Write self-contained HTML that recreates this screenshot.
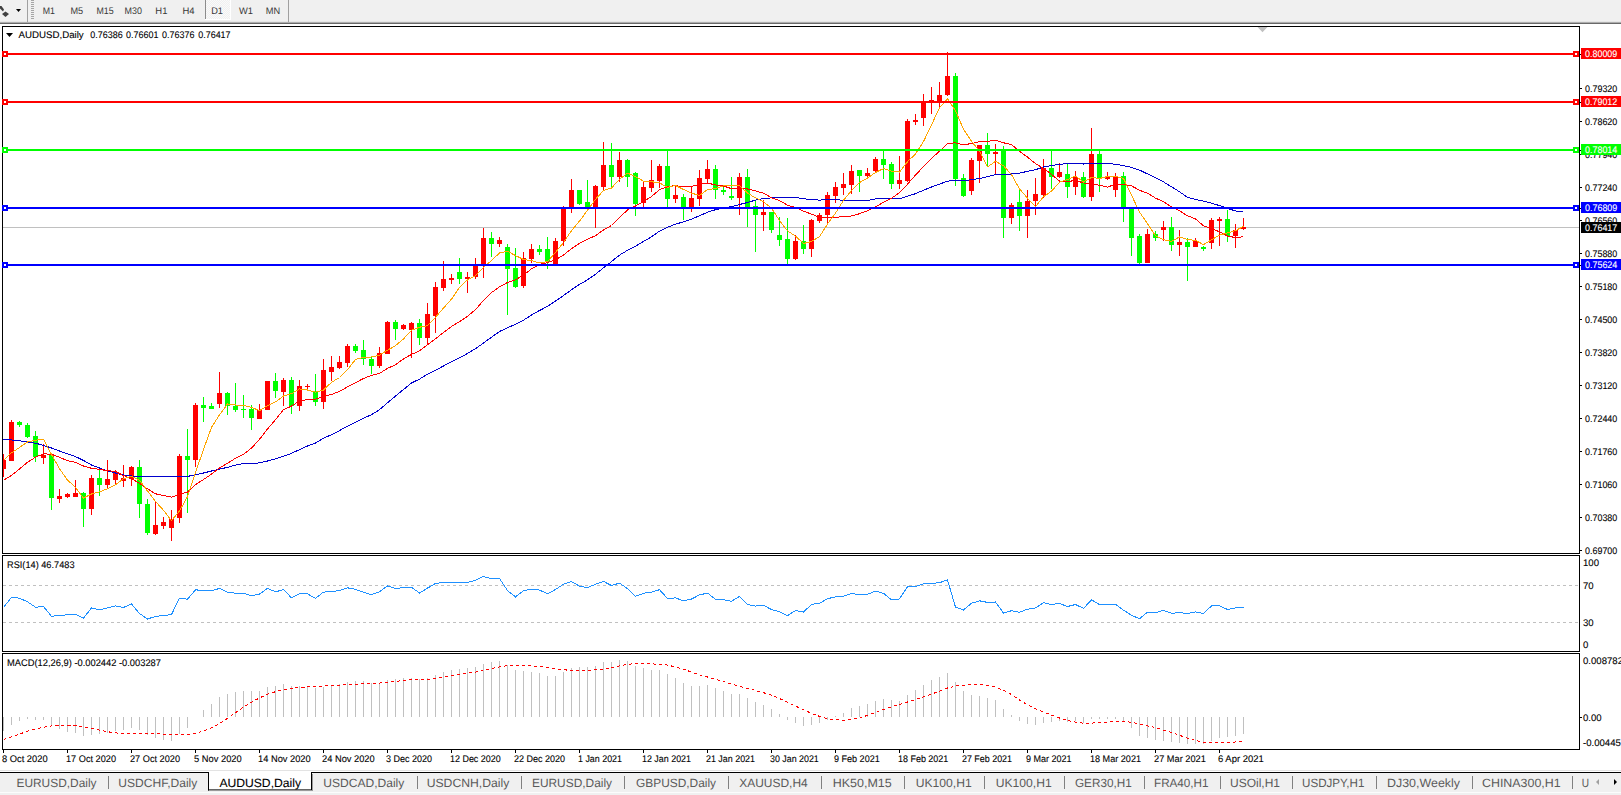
<!DOCTYPE html>
<html><head><meta charset="utf-8"><title>AUDUSD,Daily</title>
<style>html,body{margin:0;padding:0;background:#fff;width:1621px;height:795px;overflow:hidden}svg{display:block;position:absolute;left:0;top:0}text{font-family:"Liberation Sans",sans-serif;white-space:pre}</style>
</head><body>
<svg width="1621" height="795" viewBox="0 0 1621 795" font-family="Liberation Sans, sans-serif" text-rendering="geometricPrecision"><rect x="0" y="0" width="1621" height="22" fill="#f0f0f0" />
<rect x="0" y="21" width="1621" height="1" fill="#e6e6e6" />
<rect x="0" y="22" width="1621" height="1" fill="#adadad" />
<rect x="0" y="23" width="1621" height="1" fill="#696969" />
<path d="M0 6 L1.5 6 L4 9.5 L3 11.5 L0 8.5 Z" fill="#404040"/>
<path d="M5.5 11.5 L9 14 L5.5 17 L2 14 Z" fill="#404040"/>
<path d="M16 9 H21 L18.5 12 Z" fill="#000"/>
<rect x="27" y="0" width="1" height="22" fill="#a0a0a0" />
<rect x="31" y="0" width="3" height="1" fill="#a6a6a6" />
<rect x="31" y="2" width="3" height="1" fill="#a6a6a6" />
<rect x="31" y="4" width="3" height="1" fill="#a6a6a6" />
<rect x="31" y="6" width="3" height="1" fill="#a6a6a6" />
<rect x="31" y="8" width="3" height="1" fill="#a6a6a6" />
<rect x="31" y="10" width="3" height="1" fill="#a6a6a6" />
<rect x="31" y="12" width="3" height="1" fill="#a6a6a6" />
<rect x="31" y="14" width="3" height="1" fill="#a6a6a6" />
<rect x="31" y="16" width="3" height="1" fill="#a6a6a6" />
<rect x="31" y="18" width="3" height="1" fill="#a6a6a6" />
<defs><pattern id="chk" width="2" height="2" patternUnits="userSpaceOnUse"><rect width="2" height="2" fill="#f0f0f0"/><rect width="1" height="1" fill="#fafafa"/><rect x="1" y="1" width="1" height="1" fill="#fafafa"/></pattern></defs>
<rect x="206" y="0" width="24" height="19" fill="url(#chk)" />
<rect x="205" y="0" width="1" height="19" fill="#8c8c8c" />
<rect x="205" y="19" width="26" height="1" fill="#fff" />
<rect x="230" y="0" width="1" height="20" fill="#fff" />
<rect x="288" y="0" width="1" height="22" fill="#a0a0a0" />
<text x="42.8" y="14" font-size="9.6" fill="#383838" textLength="12.2" lengthAdjust="spacingAndGlyphs" >M1</text>
<text x="70.5" y="14" font-size="9.6" fill="#383838" textLength="12.7" lengthAdjust="spacingAndGlyphs" >M5</text>
<text x="96.4" y="14" font-size="9.6" fill="#383838" textLength="17.2" lengthAdjust="spacingAndGlyphs" >M15</text>
<text x="124.6" y="14" font-size="9.6" fill="#383838" textLength="17.4" lengthAdjust="spacingAndGlyphs" >M30</text>
<text x="155.3" y="14" font-size="9.6" fill="#383838" textLength="12.1" lengthAdjust="spacingAndGlyphs" >H1</text>
<text x="182.5" y="14" font-size="9.6" fill="#383838" textLength="12.1" lengthAdjust="spacingAndGlyphs" >H4</text>
<text x="211.2" y="14" font-size="9.6" fill="#383838" textLength="11.8" lengthAdjust="spacingAndGlyphs" >D1</text>
<text x="239" y="14" font-size="9.6" fill="#383838" textLength="14" lengthAdjust="spacingAndGlyphs" >W1</text>
<text x="265.8" y="14" font-size="9.6" fill="#383838" textLength="14.4" lengthAdjust="spacingAndGlyphs" >MN</text>
<rect x="2" y="26" width="1578" height="1" fill="#000" />
<rect x="2" y="26" width="1" height="724" fill="#000" />
<rect x="1579" y="26" width="1" height="724" fill="#000" />
<rect x="2" y="553" width="1578" height="1" fill="#000" />
<rect x="2" y="554" width="1577" height="1" fill="#fff" />
<rect x="2" y="555" width="1578" height="1" fill="#000" />
<rect x="2" y="651" width="1578" height="1" fill="#000" />
<rect x="2" y="652" width="1577" height="1" fill="#fff" />
<rect x="2" y="653" width="1578" height="1" fill="#000" />
<rect x="2" y="749" width="1578" height="1" fill="#000" />
<rect x="1579" y="554" width="1" height="1" fill="#fff" />
<rect x="1579" y="652" width="1" height="1" fill="#fff" />
<rect x="2" y="554" width="1" height="1" fill="#fff" />
<rect x="2" y="652" width="1" height="1" fill="#fff" />
<path d="M1257.5 27 H1267.5 L1262.5 32.3 Z" fill="#c0c0c0"/>
<defs><clipPath id="cm"><rect x="3" y="27" width="1576" height="526"/></clipPath></defs>
<g clip-path="url(#cm)" shape-rendering="crispEdges">
<rect x="3" y="227" width="1576" height="1" fill="#c0c0c0" />
<rect x="3" y="454" width="1" height="23" fill="#ff0000" />
<rect x="1" y="460" width="5" height="9" fill="#ff0000" />
<rect x="11" y="420" width="1" height="41" fill="#ff0000" />
<rect x="9" y="422" width="5" height="39" fill="#ff0000" />
<rect x="19" y="421" width="1" height="6" fill="#00ff00" />
<rect x="17" y="422" width="5" height="3" fill="#00ff00" />
<rect x="27" y="423" width="1" height="15" fill="#00ff00" />
<rect x="25" y="425" width="5" height="12" fill="#00ff00" />
<rect x="35" y="431" width="1" height="31" fill="#00ff00" />
<rect x="33" y="436" width="5" height="21" fill="#00ff00" />
<rect x="43" y="444" width="1" height="20" fill="#ff0000" />
<rect x="41" y="455" width="5" height="3" fill="#ff0000" />
<rect x="51" y="454" width="1" height="56" fill="#00ff00" />
<rect x="49" y="454" width="5" height="44" fill="#00ff00" />
<rect x="59" y="489" width="1" height="14" fill="#ff0000" />
<rect x="57" y="496" width="5" height="3" fill="#ff0000" />
<rect x="67" y="493" width="1" height="5" fill="#ff0000" />
<rect x="65" y="494" width="5" height="3" fill="#ff0000" />
<rect x="75" y="480" width="1" height="17" fill="#ff0000" />
<rect x="73" y="493" width="5" height="4" fill="#ff0000" />
<rect x="83" y="492" width="1" height="35" fill="#00ff00" />
<rect x="81" y="493" width="5" height="16" fill="#00ff00" />
<rect x="91" y="475" width="1" height="40" fill="#ff0000" />
<rect x="89" y="478" width="5" height="31" fill="#ff0000" />
<rect x="99" y="470" width="1" height="26" fill="#00ff00" />
<rect x="97" y="478" width="5" height="7" fill="#00ff00" />
<rect x="107" y="460" width="1" height="28" fill="#ff0000" />
<rect x="105" y="479" width="5" height="6" fill="#ff0000" />
<rect x="115" y="470" width="1" height="14" fill="#ff0000" />
<rect x="113" y="473" width="5" height="7" fill="#ff0000" />
<rect x="123" y="465" width="1" height="22" fill="#ff0000" />
<rect x="121" y="478" width="5" height="3" fill="#ff0000" />
<rect x="131" y="466" width="1" height="20" fill="#ff0000" />
<rect x="129" y="467" width="5" height="12" fill="#ff0000" />
<rect x="139" y="460" width="1" height="58" fill="#00ff00" />
<rect x="137" y="467" width="5" height="37" fill="#00ff00" />
<rect x="147" y="499" width="1" height="36" fill="#00ff00" />
<rect x="145" y="504" width="5" height="29" fill="#00ff00" />
<rect x="155" y="502" width="1" height="33" fill="#ff0000" />
<rect x="153" y="525" width="5" height="9" fill="#ff0000" />
<rect x="163" y="517" width="1" height="12" fill="#ff0000" />
<rect x="161" y="522" width="5" height="4" fill="#ff0000" />
<rect x="171" y="510" width="1" height="31" fill="#ff0000" />
<rect x="169" y="519" width="5" height="9" fill="#ff0000" />
<rect x="179" y="454" width="1" height="69" fill="#ff0000" />
<rect x="177" y="456" width="5" height="62" fill="#ff0000" />
<rect x="187" y="429" width="1" height="84" fill="#00ff00" />
<rect x="185" y="456" width="5" height="4" fill="#00ff00" />
<rect x="195" y="403" width="1" height="64" fill="#ff0000" />
<rect x="193" y="405" width="5" height="55" fill="#ff0000" />
<rect x="203" y="397" width="1" height="25" fill="#00ff00" />
<rect x="201" y="405" width="5" height="3" fill="#00ff00" />
<rect x="211" y="403" width="1" height="6" fill="#00ff00" />
<rect x="209" y="406" width="5" height="3" fill="#00ff00" />
<rect x="219" y="372" width="1" height="36" fill="#ff0000" />
<rect x="217" y="393" width="5" height="11" fill="#ff0000" />
<rect x="227" y="392" width="1" height="23" fill="#00ff00" />
<rect x="225" y="393" width="5" height="13" fill="#00ff00" />
<rect x="235" y="383" width="1" height="29" fill="#00ff00" />
<rect x="233" y="406" width="5" height="4" fill="#00ff00" />
<rect x="243" y="395" width="1" height="23" fill="#00ff00" />
<rect x="241" y="409" width="5" height="1" fill="#00ff00" />
<rect x="251" y="405" width="1" height="25" fill="#00ff00" />
<rect x="249" y="409" width="5" height="9" fill="#00ff00" />
<rect x="259" y="404" width="1" height="15" fill="#ff0000" />
<rect x="257" y="410" width="5" height="9" fill="#ff0000" />
<rect x="267" y="381" width="1" height="29" fill="#ff0000" />
<rect x="265" y="381" width="5" height="29" fill="#ff0000" />
<rect x="275" y="373" width="1" height="25" fill="#00ff00" />
<rect x="273" y="381" width="5" height="10" fill="#00ff00" />
<rect x="283" y="378" width="1" height="28" fill="#ff0000" />
<rect x="281" y="380" width="5" height="12" fill="#ff0000" />
<rect x="291" y="377" width="1" height="37" fill="#00ff00" />
<rect x="289" y="380" width="5" height="26" fill="#00ff00" />
<rect x="299" y="380" width="1" height="31" fill="#ff0000" />
<rect x="297" y="386" width="5" height="20" fill="#ff0000" />
<rect x="307" y="384" width="1" height="6" fill="#ff0000" />
<rect x="305" y="386" width="5" height="1" fill="#ff0000" />
<rect x="315" y="374" width="1" height="32" fill="#00ff00" />
<rect x="313" y="392" width="5" height="10" fill="#00ff00" />
<rect x="323" y="359" width="1" height="50" fill="#ff0000" />
<rect x="321" y="370" width="5" height="32" fill="#ff0000" />
<rect x="331" y="356" width="1" height="25" fill="#ff0000" />
<rect x="329" y="367" width="5" height="5" fill="#ff0000" />
<rect x="339" y="356" width="1" height="13" fill="#ff0000" />
<rect x="337" y="362" width="5" height="6" fill="#ff0000" />
<rect x="347" y="344" width="1" height="23" fill="#ff0000" />
<rect x="345" y="346" width="5" height="17" fill="#ff0000" />
<rect x="355" y="344" width="1" height="9" fill="#00ff00" />
<rect x="353" y="346" width="5" height="5" fill="#00ff00" />
<rect x="363" y="340" width="1" height="25" fill="#00ff00" />
<rect x="361" y="350" width="5" height="9" fill="#00ff00" />
<rect x="371" y="357" width="1" height="17" fill="#00ff00" />
<rect x="369" y="359" width="5" height="7" fill="#00ff00" />
<rect x="379" y="347" width="1" height="21" fill="#ff0000" />
<rect x="377" y="353" width="5" height="13" fill="#ff0000" />
<rect x="387" y="321" width="1" height="33" fill="#ff0000" />
<rect x="385" y="322" width="5" height="32" fill="#ff0000" />
<rect x="395" y="320" width="1" height="20" fill="#00ff00" />
<rect x="393" y="322" width="5" height="7" fill="#00ff00" />
<rect x="403" y="324" width="1" height="6" fill="#ff0000" />
<rect x="401" y="325" width="5" height="4" fill="#ff0000" />
<rect x="411" y="322" width="1" height="36" fill="#ff0000" />
<rect x="409" y="323" width="5" height="7" fill="#ff0000" />
<rect x="419" y="319" width="1" height="26" fill="#00ff00" />
<rect x="417" y="323" width="5" height="15" fill="#00ff00" />
<rect x="427" y="303" width="1" height="41" fill="#ff0000" />
<rect x="425" y="314" width="5" height="24" fill="#ff0000" />
<rect x="435" y="282" width="1" height="51" fill="#ff0000" />
<rect x="433" y="287" width="5" height="29" fill="#ff0000" />
<rect x="443" y="261" width="1" height="30" fill="#ff0000" />
<rect x="441" y="279" width="5" height="9" fill="#ff0000" />
<rect x="451" y="274" width="1" height="10" fill="#ff0000" />
<rect x="449" y="278" width="5" height="2" fill="#ff0000" />
<rect x="459" y="258" width="1" height="26" fill="#00ff00" />
<rect x="457" y="272" width="5" height="7" fill="#00ff00" />
<rect x="467" y="272" width="1" height="21" fill="#ff0000" />
<rect x="465" y="277" width="5" height="2" fill="#ff0000" />
<rect x="475" y="258" width="1" height="21" fill="#ff0000" />
<rect x="473" y="265" width="5" height="12" fill="#ff0000" />
<rect x="483" y="228" width="1" height="50" fill="#ff0000" />
<rect x="481" y="238" width="5" height="27" fill="#ff0000" />
<rect x="491" y="232" width="1" height="25" fill="#00ff00" />
<rect x="489" y="238" width="5" height="6" fill="#00ff00" />
<rect x="499" y="237" width="1" height="10" fill="#ff0000" />
<rect x="497" y="240" width="5" height="4" fill="#ff0000" />
<rect x="507" y="244" width="1" height="71" fill="#00ff00" />
<rect x="505" y="247" width="5" height="22" fill="#00ff00" />
<rect x="515" y="248" width="1" height="40" fill="#00ff00" />
<rect x="513" y="268" width="5" height="19" fill="#00ff00" />
<rect x="523" y="252" width="1" height="36" fill="#ff0000" />
<rect x="521" y="258" width="5" height="28" fill="#ff0000" />
<rect x="531" y="244" width="1" height="19" fill="#ff0000" />
<rect x="529" y="249" width="5" height="10" fill="#ff0000" />
<rect x="539" y="245" width="1" height="10" fill="#00ff00" />
<rect x="537" y="249" width="5" height="3" fill="#00ff00" />
<rect x="547" y="237" width="1" height="32" fill="#00ff00" />
<rect x="545" y="249" width="5" height="13" fill="#00ff00" />
<rect x="555" y="238" width="1" height="26" fill="#ff0000" />
<rect x="553" y="241" width="5" height="23" fill="#ff0000" />
<rect x="563" y="206" width="1" height="40" fill="#ff0000" />
<rect x="561" y="208" width="5" height="33" fill="#ff0000" />
<rect x="571" y="179" width="1" height="34" fill="#ff0000" />
<rect x="569" y="190" width="5" height="17" fill="#ff0000" />
<rect x="579" y="190" width="1" height="15" fill="#00ff00" />
<rect x="577" y="190" width="5" height="14" fill="#00ff00" />
<rect x="587" y="180" width="1" height="30" fill="#00ff00" />
<rect x="585" y="202" width="5" height="6" fill="#00ff00" />
<rect x="595" y="185" width="1" height="43" fill="#ff0000" />
<rect x="593" y="186" width="5" height="21" fill="#ff0000" />
<rect x="603" y="142" width="1" height="48" fill="#ff0000" />
<rect x="601" y="165" width="5" height="22" fill="#ff0000" />
<rect x="611" y="143" width="1" height="45" fill="#00ff00" />
<rect x="609" y="165" width="5" height="12" fill="#00ff00" />
<rect x="619" y="152" width="1" height="30" fill="#ff0000" />
<rect x="617" y="160" width="5" height="17" fill="#ff0000" />
<rect x="627" y="159" width="1" height="28" fill="#00ff00" />
<rect x="625" y="160" width="5" height="17" fill="#00ff00" />
<rect x="635" y="172" width="1" height="44" fill="#00ff00" />
<rect x="633" y="173" width="5" height="31" fill="#00ff00" />
<rect x="643" y="182" width="1" height="25" fill="#ff0000" />
<rect x="641" y="187" width="5" height="16" fill="#ff0000" />
<rect x="651" y="160" width="1" height="32" fill="#ff0000" />
<rect x="649" y="180" width="5" height="8" fill="#ff0000" />
<rect x="659" y="164" width="1" height="24" fill="#ff0000" />
<rect x="657" y="166" width="5" height="15" fill="#ff0000" />
<rect x="667" y="150" width="1" height="57" fill="#00ff00" />
<rect x="665" y="166" width="5" height="33" fill="#00ff00" />
<rect x="675" y="186" width="1" height="17" fill="#ff0000" />
<rect x="673" y="195" width="5" height="4" fill="#ff0000" />
<rect x="683" y="194" width="1" height="26" fill="#00ff00" />
<rect x="681" y="197" width="5" height="10" fill="#00ff00" />
<rect x="691" y="186" width="1" height="26" fill="#ff0000" />
<rect x="689" y="198" width="5" height="9" fill="#ff0000" />
<rect x="699" y="170" width="1" height="36" fill="#ff0000" />
<rect x="697" y="178" width="5" height="21" fill="#ff0000" />
<rect x="707" y="160" width="1" height="24" fill="#ff0000" />
<rect x="705" y="169" width="5" height="10" fill="#ff0000" />
<rect x="715" y="165" width="1" height="34" fill="#00ff00" />
<rect x="713" y="169" width="5" height="21" fill="#00ff00" />
<rect x="723" y="186" width="1" height="9" fill="#00ff00" />
<rect x="721" y="190" width="5" height="2" fill="#00ff00" />
<rect x="731" y="177" width="1" height="23" fill="#00ff00" />
<rect x="729" y="196" width="5" height="2" fill="#00ff00" />
<rect x="739" y="173" width="1" height="42" fill="#ff0000" />
<rect x="737" y="177" width="5" height="21" fill="#ff0000" />
<rect x="747" y="169" width="1" height="58" fill="#00ff00" />
<rect x="745" y="177" width="5" height="30" fill="#00ff00" />
<rect x="755" y="200" width="1" height="52" fill="#00ff00" />
<rect x="753" y="206" width="5" height="9" fill="#00ff00" />
<rect x="763" y="200" width="1" height="31" fill="#ff0000" />
<rect x="761" y="212" width="5" height="3" fill="#ff0000" />
<rect x="771" y="212" width="1" height="21" fill="#00ff00" />
<rect x="769" y="212" width="5" height="18" fill="#00ff00" />
<rect x="779" y="217" width="1" height="29" fill="#00ff00" />
<rect x="777" y="235" width="5" height="5" fill="#00ff00" />
<rect x="787" y="218" width="1" height="46" fill="#00ff00" />
<rect x="785" y="239" width="5" height="20" fill="#00ff00" />
<rect x="795" y="235" width="1" height="25" fill="#ff0000" />
<rect x="793" y="241" width="5" height="18" fill="#ff0000" />
<rect x="803" y="225" width="1" height="29" fill="#00ff00" />
<rect x="801" y="241" width="5" height="8" fill="#00ff00" />
<rect x="811" y="219" width="1" height="38" fill="#ff0000" />
<rect x="809" y="220" width="5" height="29" fill="#ff0000" />
<rect x="819" y="213" width="1" height="10" fill="#ff0000" />
<rect x="817" y="215" width="5" height="6" fill="#ff0000" />
<rect x="827" y="192" width="1" height="32" fill="#ff0000" />
<rect x="825" y="195" width="5" height="20" fill="#ff0000" />
<rect x="835" y="182" width="1" height="21" fill="#ff0000" />
<rect x="833" y="187" width="5" height="9" fill="#ff0000" />
<rect x="843" y="173" width="1" height="22" fill="#ff0000" />
<rect x="841" y="184" width="5" height="4" fill="#ff0000" />
<rect x="851" y="165" width="1" height="29" fill="#ff0000" />
<rect x="849" y="171" width="5" height="14" fill="#ff0000" />
<rect x="859" y="170" width="1" height="22" fill="#00ff00" />
<rect x="857" y="170" width="5" height="6" fill="#00ff00" />
<rect x="867" y="168" width="1" height="10" fill="#ff0000" />
<rect x="865" y="173" width="5" height="3" fill="#ff0000" />
<rect x="875" y="157" width="1" height="15" fill="#ff0000" />
<rect x="873" y="159" width="5" height="12" fill="#ff0000" />
<rect x="883" y="151" width="1" height="28" fill="#00ff00" />
<rect x="881" y="159" width="5" height="6" fill="#00ff00" />
<rect x="891" y="162" width="1" height="27" fill="#00ff00" />
<rect x="889" y="164" width="5" height="20" fill="#00ff00" />
<rect x="899" y="156" width="1" height="33" fill="#ff0000" />
<rect x="897" y="180" width="5" height="4" fill="#ff0000" />
<rect x="907" y="119" width="1" height="63" fill="#ff0000" />
<rect x="905" y="121" width="5" height="60" fill="#ff0000" />
<rect x="915" y="114" width="1" height="11" fill="#ff0000" />
<rect x="913" y="120" width="5" height="2" fill="#ff0000" />
<rect x="923" y="94" width="1" height="32" fill="#ff0000" />
<rect x="921" y="103" width="5" height="15" fill="#ff0000" />
<rect x="931" y="87" width="1" height="27" fill="#ff0000" />
<rect x="929" y="100" width="5" height="2" fill="#ff0000" />
<rect x="939" y="82" width="1" height="25" fill="#ff0000" />
<rect x="937" y="95" width="5" height="7" fill="#ff0000" />
<rect x="947" y="52" width="1" height="44" fill="#ff0000" />
<rect x="945" y="76" width="5" height="19" fill="#ff0000" />
<rect x="955" y="73" width="1" height="113" fill="#00ff00" />
<rect x="953" y="76" width="5" height="103" fill="#00ff00" />
<rect x="963" y="174" width="1" height="23" fill="#00ff00" />
<rect x="961" y="178" width="5" height="18" fill="#00ff00" />
<rect x="971" y="158" width="1" height="37" fill="#ff0000" />
<rect x="969" y="160" width="5" height="31" fill="#ff0000" />
<rect x="979" y="145" width="1" height="38" fill="#ff0000" />
<rect x="977" y="145" width="5" height="16" fill="#ff0000" />
<rect x="987" y="133" width="1" height="33" fill="#00ff00" />
<rect x="985" y="145" width="5" height="9" fill="#00ff00" />
<rect x="995" y="144" width="1" height="30" fill="#ff0000" />
<rect x="993" y="152" width="5" height="2" fill="#ff0000" />
<rect x="1003" y="146" width="1" height="92" fill="#00ff00" />
<rect x="1001" y="150" width="5" height="68" fill="#00ff00" />
<rect x="1011" y="203" width="1" height="21" fill="#ff0000" />
<rect x="1009" y="205" width="5" height="13" fill="#ff0000" />
<rect x="1019" y="189" width="1" height="42" fill="#00ff00" />
<rect x="1017" y="202" width="5" height="14" fill="#00ff00" />
<rect x="1027" y="190" width="1" height="48" fill="#ff0000" />
<rect x="1025" y="201" width="5" height="15" fill="#ff0000" />
<rect x="1035" y="178" width="1" height="37" fill="#ff0000" />
<rect x="1033" y="194" width="5" height="7" fill="#ff0000" />
<rect x="1043" y="159" width="1" height="39" fill="#ff0000" />
<rect x="1041" y="168" width="5" height="27" fill="#ff0000" />
<rect x="1051" y="151" width="1" height="38" fill="#00ff00" />
<rect x="1049" y="168" width="5" height="9" fill="#00ff00" />
<rect x="1059" y="163" width="1" height="15" fill="#ff0000" />
<rect x="1057" y="172" width="5" height="5" fill="#ff0000" />
<rect x="1067" y="164" width="1" height="34" fill="#00ff00" />
<rect x="1065" y="174" width="5" height="13" fill="#00ff00" />
<rect x="1075" y="171" width="1" height="24" fill="#ff0000" />
<rect x="1073" y="177" width="5" height="10" fill="#ff0000" />
<rect x="1083" y="172" width="1" height="26" fill="#00ff00" />
<rect x="1081" y="177" width="5" height="20" fill="#00ff00" />
<rect x="1091" y="128" width="1" height="73" fill="#ff0000" />
<rect x="1089" y="154" width="5" height="43" fill="#ff0000" />
<rect x="1099" y="151" width="1" height="41" fill="#00ff00" />
<rect x="1097" y="154" width="5" height="24" fill="#00ff00" />
<rect x="1107" y="172" width="1" height="8" fill="#ff0000" />
<rect x="1105" y="176" width="5" height="3" fill="#ff0000" />
<rect x="1115" y="173" width="1" height="24" fill="#ff0000" />
<rect x="1113" y="177" width="5" height="13" fill="#ff0000" />
<rect x="1123" y="172" width="1" height="50" fill="#00ff00" />
<rect x="1121" y="176" width="5" height="31" fill="#00ff00" />
<rect x="1131" y="209" width="1" height="47" fill="#00ff00" />
<rect x="1129" y="209" width="5" height="29" fill="#00ff00" />
<rect x="1139" y="234" width="1" height="30" fill="#00ff00" />
<rect x="1137" y="236" width="5" height="27" fill="#00ff00" />
<rect x="1147" y="229" width="1" height="34" fill="#ff0000" />
<rect x="1145" y="234" width="5" height="29" fill="#ff0000" />
<rect x="1155" y="231" width="1" height="10" fill="#00ff00" />
<rect x="1153" y="234" width="5" height="4" fill="#00ff00" />
<rect x="1163" y="221" width="1" height="20" fill="#ff0000" />
<rect x="1161" y="227" width="5" height="3" fill="#ff0000" />
<rect x="1171" y="217" width="1" height="34" fill="#00ff00" />
<rect x="1169" y="227" width="5" height="18" fill="#00ff00" />
<rect x="1179" y="230" width="1" height="26" fill="#ff0000" />
<rect x="1177" y="242" width="5" height="3" fill="#ff0000" />
<rect x="1187" y="238" width="1" height="43" fill="#00ff00" />
<rect x="1185" y="242" width="5" height="5" fill="#00ff00" />
<rect x="1195" y="238" width="1" height="9" fill="#ff0000" />
<rect x="1193" y="241" width="5" height="6" fill="#ff0000" />
<rect x="1203" y="246" width="1" height="5" fill="#00ff00" />
<rect x="1201" y="247" width="5" height="2" fill="#00ff00" />
<rect x="1211" y="218" width="1" height="31" fill="#ff0000" />
<rect x="1209" y="220" width="5" height="23" fill="#ff0000" />
<rect x="1219" y="217" width="1" height="29" fill="#ff0000" />
<rect x="1217" y="219" width="5" height="2" fill="#ff0000" />
<rect x="1227" y="210" width="1" height="32" fill="#00ff00" />
<rect x="1225" y="219" width="5" height="17" fill="#00ff00" />
<rect x="1235" y="224" width="1" height="24" fill="#ff0000" />
<rect x="1233" y="230" width="5" height="6" fill="#ff0000" />
<rect x="1243" y="218" width="1" height="12" fill="#ff0000" />
<rect x="1241" y="227" width="5" height="2" fill="#ff0000" />
<polyline points="3.5,439.5 11.5,440.0 19.5,440.7 27.5,442.0 35.5,443.2 43.5,445.4 51.5,448.0 59.5,451.0 67.5,453.8 75.5,456.6 83.5,460.5 91.5,465.0 99.5,468.0 107.5,470.8 115.5,473.0 123.5,475.0 131.5,476.0 139.5,476.4 147.5,476.4 155.5,476.4 163.5,476.4 171.5,476.4 179.5,476.4 187.5,476.4 195.5,474.8 203.5,473.0 211.5,471.0 219.5,469.2 227.5,467.3 235.5,465.2 243.5,463.5 251.5,463.4 259.5,462.9 267.5,461.0 275.5,458.8 283.5,456.3 291.5,453.3 299.5,449.6 307.5,446.0 315.5,443.0 323.5,438.3 331.5,434.6 339.5,430.6 347.5,426.1 355.5,422.1 363.5,418.1 371.5,414.7 379.5,409.7 387.5,402.7 395.5,396.1 403.5,389.5 411.5,383.0 419.5,379.1 427.5,374.2 435.5,370.3 443.5,366.0 451.5,361.6 459.5,357.8 467.5,353.5 475.5,348.7 483.5,343.0 491.5,337.2 499.5,331.5 507.5,327.8 515.5,324.3 523.5,320.2 531.5,315.0 539.5,310.5 547.5,306.4 555.5,301.0 563.5,295.6 571.5,289.7 579.5,284.4 587.5,279.8 595.5,274.3 603.5,267.8 611.5,261.6 619.5,255.1 627.5,250.3 635.5,246.1 643.5,241.5 651.5,236.8 659.5,231.1 667.5,227.2 675.5,224.2 683.5,221.8 691.5,219.1 699.5,215.8 707.5,212.2 715.5,209.7 723.5,208.1 731.5,206.6 739.5,204.5 747.5,202.5 755.5,200.1 763.5,198.5 771.5,197.9 779.5,197.5 787.5,197.4 795.5,197.4 803.5,198.7 811.5,199.7 819.5,200.1 827.5,199.6 835.5,199.7 843.5,200.3 851.5,200.1 859.5,200.6 867.5,200.5 875.5,199.0 883.5,198.2 891.5,198.3 899.5,198.8 907.5,196.2 915.5,193.7 923.5,190.2 931.5,187.0 939.5,184.2 947.5,181.1 955.5,180.7 963.5,180.8 971.5,179.6 979.5,178.5 987.5,176.7 995.5,174.6 1003.5,174.8 1011.5,174.0 1019.5,173.2 1027.5,171.3 1035.5,169.7 1043.5,167.0 1051.5,165.6 1059.5,164.1 1067.5,163.9 1075.5,163.5 1083.5,164.0 1091.5,163.4 1099.5,163.5 1107.5,163.6 1115.5,164.2 1123.5,165.6 1131.5,167.4 1139.5,170.1 1147.5,173.9 1155.5,177.8 1163.5,181.9 1171.5,186.8 1179.5,191.7 1187.5,197.4 1195.5,199.4 1203.5,201.2 1211.5,203.2 1219.5,205.6 1227.5,208.4 1235.5,211.0 1243.5,211.3" fill="none" stroke="#0000cd" stroke-width="1" />
<polyline points="3.5,480.2 11.5,475.5 19.5,468.9 27.5,462.3 35.5,457.2 43.5,453.8 51.5,454.3 59.5,457.2 67.5,460.8 75.5,462.3 83.5,466.0 91.5,468.3 99.5,469.4 107.5,470.6 115.5,471.5 123.5,475.6 131.5,478.6 139.5,483.4 147.5,488.8 155.5,493.8 163.5,495.5 171.5,497.1 179.5,494.4 187.5,492.1 195.5,484.6 203.5,479.6 211.5,474.1 219.5,468.0 227.5,463.2 235.5,458.3 243.5,454.3 251.5,448.1 259.5,439.3 267.5,429.0 275.5,419.6 283.5,409.7 291.5,406.1 299.5,400.9 307.5,399.5 315.5,399.1 323.5,396.4 331.5,394.5 339.5,391.4 347.5,386.9 355.5,382.7 363.5,378.5 371.5,375.3 379.5,373.4 387.5,368.4 395.5,364.7 403.5,358.9 411.5,354.4 419.5,350.9 427.5,344.7 435.5,338.8 443.5,332.4 451.5,326.4 459.5,321.6 467.5,316.3 475.5,309.6 483.5,300.4 491.5,292.6 499.5,286.8 507.5,282.5 515.5,279.8 523.5,275.2 531.5,268.8 539.5,264.4 547.5,262.6 555.5,259.9 563.5,255.0 571.5,248.6 579.5,243.4 587.5,239.3 595.5,235.6 603.5,230.0 611.5,225.5 619.5,217.7 627.5,209.9 635.5,206.0 643.5,201.6 651.5,196.5 659.5,189.6 667.5,186.6 675.5,185.6 683.5,186.8 691.5,186.5 699.5,184.3 707.5,183.1 715.5,184.9 723.5,186.0 731.5,188.7 739.5,188.7 747.5,189.0 755.5,190.9 763.5,193.2 771.5,197.7 779.5,200.6 787.5,205.1 795.5,207.6 803.5,211.2 811.5,214.1 819.5,217.5 827.5,217.8 835.5,217.4 843.5,216.4 851.5,216.0 859.5,213.7 867.5,210.7 875.5,207.0 883.5,202.3 891.5,198.3 899.5,192.7 907.5,184.2 915.5,175.0 923.5,166.6 931.5,158.4 939.5,151.2 947.5,143.3 955.5,142.9 963.5,144.7 971.5,143.6 979.5,141.7 987.5,141.3 995.5,140.3 1003.5,142.8 1011.5,144.5 1019.5,151.3 1027.5,157.1 1035.5,163.6 1043.5,168.4 1051.5,174.3 1059.5,181.1 1067.5,181.7 1075.5,180.3 1083.5,183.0 1091.5,183.6 1099.5,185.3 1107.5,187.1 1115.5,184.2 1123.5,184.3 1131.5,185.8 1139.5,190.3 1147.5,193.1 1155.5,198.1 1163.5,201.7 1171.5,206.9 1179.5,210.8 1187.5,215.8 1195.5,218.9 1203.5,225.7 1211.5,228.7 1219.5,231.8 1227.5,236.0 1235.5,237.6 1243.5,236.8" fill="none" stroke="#ff0000" stroke-width="1" />
<polyline points="3.5,460.4 11.5,452.8 19.5,447.5 27.5,442.0 35.5,440.2 43.5,439.2 51.5,454.5 59.5,468.7 67.5,480.1 75.5,487.3 83.5,498.1 91.5,494.0 99.5,491.8 107.5,488.8 115.5,484.8 123.5,478.6 131.5,476.4 139.5,480.3 147.5,491.0 155.5,501.5 163.5,510.3 171.5,520.7 179.5,511.1 187.5,496.5 195.5,472.4 203.5,449.5 211.5,427.4 219.5,414.8 227.5,404.0 235.5,405.0 243.5,405.5 251.5,407.3 259.5,410.7 267.5,405.6 275.5,401.9 283.5,395.9 291.5,393.7 299.5,388.9 307.5,390.0 315.5,392.1 323.5,390.1 331.5,382.3 339.5,377.5 347.5,369.6 355.5,359.5 363.5,357.3 371.5,357.0 379.5,355.1 387.5,350.2 395.5,345.7 403.5,338.9 411.5,330.3 419.5,327.2 427.5,325.7 435.5,317.3 443.5,308.1 451.5,299.1 459.5,287.3 467.5,279.9 475.5,275.6 483.5,267.4 491.5,260.6 499.5,252.9 507.5,251.2 515.5,255.6 523.5,259.5 531.5,260.6 539.5,262.9 547.5,261.6 555.5,252.4 563.5,242.5 571.5,230.7 579.5,221.1 587.5,210.3 595.5,199.3 603.5,190.6 611.5,188.0 619.5,179.3 627.5,173.1 635.5,176.7 643.5,181.1 651.5,181.7 659.5,182.9 667.5,187.3 675.5,185.5 683.5,189.5 691.5,193.1 699.5,195.5 707.5,189.5 715.5,188.6 723.5,185.7 731.5,185.6 739.5,185.4 747.5,193.1 755.5,197.9 763.5,201.8 771.5,208.1 779.5,220.6 787.5,230.9 795.5,236.1 803.5,243.5 811.5,241.5 819.5,236.7 827.5,224.0 835.5,213.2 843.5,200.3 851.5,190.6 859.5,182.6 867.5,178.1 875.5,172.5 883.5,168.6 891.5,171.2 899.5,172.1 907.5,161.7 915.5,153.9 923.5,141.6 931.5,124.9 939.5,107.8 947.5,98.8 955.5,110.6 963.5,129.2 971.5,141.2 979.5,151.3 987.5,166.9 995.5,161.4 1003.5,165.7 1011.5,174.7 1019.5,188.8 1027.5,198.2 1035.5,206.7 1043.5,196.7 1051.5,191.1 1059.5,182.3 1067.5,179.5 1075.5,176.1 1083.5,182.0 1091.5,177.4 1099.5,178.5 1107.5,176.5 1115.5,176.4 1123.5,178.4 1131.5,195.1 1139.5,212.1 1147.5,223.6 1155.5,235.8 1163.5,239.8 1171.5,241.2 1179.5,237.0 1187.5,239.6 1195.5,240.3 1203.5,244.7 1211.5,239.7 1219.5,235.1 1227.5,232.9 1235.5,230.7 1243.5,226.3" fill="none" stroke="#ffa500" stroke-width="1" />
<rect x="3" y="53" width="1576" height="2" fill="#ff0000" />
<rect x="3" y="101" width="1576" height="2" fill="#ff0000" />
<rect x="3" y="149" width="1576" height="2" fill="#00ff00" />
<rect x="3" y="207" width="1576" height="2" fill="#0000ff" />
<rect x="3" y="264" width="1576" height="2" fill="#0000ff" />
</g>
<rect x="2" y="51" width="6" height="6" fill="#ff0000" />
<rect x="4" y="53" width="2" height="2" fill="#fff" />
<rect x="1573" y="51" width="6" height="6" fill="#ff0000" />
<rect x="1575" y="53" width="2" height="2" fill="#fff" />
<rect x="2" y="99" width="6" height="6" fill="#ff0000" />
<rect x="4" y="101" width="2" height="2" fill="#fff" />
<rect x="1573" y="99" width="6" height="6" fill="#ff0000" />
<rect x="1575" y="101" width="2" height="2" fill="#fff" />
<rect x="2" y="147" width="6" height="6" fill="#00ff00" />
<rect x="4" y="149" width="2" height="2" fill="#fff" />
<rect x="1573" y="147" width="6" height="6" fill="#00ff00" />
<rect x="1575" y="149" width="2" height="2" fill="#fff" />
<rect x="2" y="205" width="6" height="6" fill="#0000ff" />
<rect x="4" y="207" width="2" height="2" fill="#fff" />
<rect x="1573" y="205" width="6" height="6" fill="#0000ff" />
<rect x="1575" y="207" width="2" height="2" fill="#fff" />
<rect x="2" y="262" width="6" height="6" fill="#0000ff" />
<rect x="4" y="264" width="2" height="2" fill="#fff" />
<rect x="1573" y="262" width="6" height="6" fill="#0000ff" />
<rect x="1575" y="264" width="2" height="2" fill="#fff" />
<rect x="1580" y="88" width="2" height="1" fill="#000" />
<text x="1585" y="91.7" font-size="9.6" fill="#000" stroke="#000" stroke-width="0.1" textLength="32.3" lengthAdjust="spacingAndGlyphs" >0.79320</text>
<rect x="1580" y="121" width="2" height="1" fill="#000" />
<text x="1585" y="124.7" font-size="9.6" fill="#000" stroke="#000" stroke-width="0.1" textLength="32.3" lengthAdjust="spacingAndGlyphs" >0.78620</text>
<rect x="1580" y="154" width="2" height="1" fill="#000" />
<text x="1585" y="157.7" font-size="9.6" fill="#000" stroke="#000" stroke-width="0.1" textLength="32.3" lengthAdjust="spacingAndGlyphs" >0.77940</text>
<rect x="1580" y="187" width="2" height="1" fill="#000" />
<text x="1585" y="190.7" font-size="9.6" fill="#000" stroke="#000" stroke-width="0.1" textLength="32.3" lengthAdjust="spacingAndGlyphs" >0.77240</text>
<rect x="1580" y="220" width="2" height="1" fill="#000" />
<text x="1585" y="223.7" font-size="9.6" fill="#000" stroke="#000" stroke-width="0.1" textLength="32.3" lengthAdjust="spacingAndGlyphs" >0.76560</text>
<rect x="1580" y="253" width="2" height="1" fill="#000" />
<text x="1585" y="256.7" font-size="9.6" fill="#000" stroke="#000" stroke-width="0.1" textLength="32.3" lengthAdjust="spacingAndGlyphs" >0.75880</text>
<rect x="1580" y="286" width="2" height="1" fill="#000" />
<text x="1585" y="289.7" font-size="9.6" fill="#000" stroke="#000" stroke-width="0.1" textLength="32.3" lengthAdjust="spacingAndGlyphs" >0.75180</text>
<rect x="1580" y="319" width="2" height="1" fill="#000" />
<text x="1585" y="322.7" font-size="9.6" fill="#000" stroke="#000" stroke-width="0.1" textLength="32.3" lengthAdjust="spacingAndGlyphs" >0.74500</text>
<rect x="1580" y="352" width="2" height="1" fill="#000" />
<text x="1585" y="355.7" font-size="9.6" fill="#000" stroke="#000" stroke-width="0.1" textLength="32.3" lengthAdjust="spacingAndGlyphs" >0.73820</text>
<rect x="1580" y="385" width="2" height="1" fill="#000" />
<text x="1585" y="388.7" font-size="9.6" fill="#000" stroke="#000" stroke-width="0.1" textLength="32.3" lengthAdjust="spacingAndGlyphs" >0.73120</text>
<rect x="1580" y="418" width="2" height="1" fill="#000" />
<text x="1585" y="421.7" font-size="9.6" fill="#000" stroke="#000" stroke-width="0.1" textLength="32.3" lengthAdjust="spacingAndGlyphs" >0.72440</text>
<rect x="1580" y="451" width="2" height="1" fill="#000" />
<text x="1585" y="454.7" font-size="9.6" fill="#000" stroke="#000" stroke-width="0.1" textLength="32.3" lengthAdjust="spacingAndGlyphs" >0.71760</text>
<rect x="1580" y="484" width="2" height="1" fill="#000" />
<text x="1585" y="487.7" font-size="9.6" fill="#000" stroke="#000" stroke-width="0.1" textLength="32.3" lengthAdjust="spacingAndGlyphs" >0.71060</text>
<rect x="1580" y="517" width="2" height="1" fill="#000" />
<text x="1585" y="520.7" font-size="9.6" fill="#000" stroke="#000" stroke-width="0.1" textLength="32.3" lengthAdjust="spacingAndGlyphs" >0.70380</text>
<rect x="1580" y="550" width="2" height="1" fill="#000" />
<text x="1585" y="553.7" font-size="9.6" fill="#000" stroke="#000" stroke-width="0.1" textLength="32.3" lengthAdjust="spacingAndGlyphs" >0.69700</text>
<rect x="1581" y="48" width="40" height="11" fill="#ff0000" />
<text x="1585" y="56.9" font-size="9.6" fill="#fff" stroke="#fff" stroke-width="0.1" textLength="32.3" lengthAdjust="spacingAndGlyphs" >0.80009</text>
<rect x="1581" y="96" width="40" height="11" fill="#ff0000" />
<text x="1585" y="104.9" font-size="9.6" fill="#fff" stroke="#fff" stroke-width="0.1" textLength="32.3" lengthAdjust="spacingAndGlyphs" >0.79012</text>
<rect x="1581" y="144" width="40" height="11" fill="#00ff00" />
<text x="1585" y="152.9" font-size="9.6" fill="#fff" stroke="#fff" stroke-width="0.1" textLength="32.3" lengthAdjust="spacingAndGlyphs" >0.78014</text>
<rect x="1581" y="202" width="40" height="11" fill="#0000ff" />
<text x="1585" y="210.9" font-size="9.6" fill="#fff" stroke="#fff" stroke-width="0.1" textLength="32.3" lengthAdjust="spacingAndGlyphs" >0.76809</text>
<rect x="1581" y="222" width="40" height="11" fill="#000000" />
<text x="1585" y="230.9" font-size="9.6" fill="#fff" stroke="#fff" stroke-width="0.1" textLength="32.3" lengthAdjust="spacingAndGlyphs" >0.76417</text>
<rect x="1581" y="259" width="40" height="11" fill="#0000ff" />
<text x="1585" y="267.9" font-size="9.6" fill="#fff" stroke="#fff" stroke-width="0.1" textLength="32.3" lengthAdjust="spacingAndGlyphs" >0.75624</text>
<rect x="1580" y="54" width="1" height="1" fill="#000" />
<rect x="1580" y="102" width="1" height="1" fill="#000" />
<rect x="1580" y="150" width="1" height="1" fill="#000" />
<rect x="1580" y="208" width="1" height="1" fill="#000" />
<rect x="1580" y="265" width="1" height="1" fill="#000" />
<path d="M6 33 H13 L9.5 37 Z" fill="#000"/>
<text x="18.5" y="38" font-size="9.6" fill="#000" stroke="#000" stroke-width="0.1" textLength="65.2" lengthAdjust="spacingAndGlyphs" >AUDUSD,Daily</text>
<text x="90.3" y="38" font-size="9.6" fill="#000" stroke="#000" stroke-width="0.1" textLength="32.4" lengthAdjust="spacingAndGlyphs" >0.76386</text>
<text x="126" y="38" font-size="9.6" fill="#000" stroke="#000" stroke-width="0.1" textLength="32.4" lengthAdjust="spacingAndGlyphs" >0.76601</text>
<text x="162" y="38" font-size="9.6" fill="#000" stroke="#000" stroke-width="0.1" textLength="32.4" lengthAdjust="spacingAndGlyphs" >0.76376</text>
<text x="198.2" y="38" font-size="9.6" fill="#000" stroke="#000" stroke-width="0.1" textLength="32.4" lengthAdjust="spacingAndGlyphs" >0.76417</text>
<g shape-rendering="crispEdges">
<line x1="3" x2="1579" y1="585.5" y2="585.5" stroke="#c0c0c0" stroke-width="1" stroke-dasharray="3 3"/>
<line x1="3" x2="1579" y1="622.5" y2="622.5" stroke="#c0c0c0" stroke-width="1" stroke-dasharray="3 3"/>
<polyline points="3.5,607.4 11.5,597.3 19.5,598.2 27.5,601.8 35.5,607.2 43.5,606.6 51.5,616.3 59.5,615.5 67.5,614.8 75.5,614.5 83.5,618.0 91.5,608.0 99.5,609.7 107.5,607.9 115.5,605.9 123.5,607.5 131.5,604.0 139.5,613.5 147.5,619.0 155.5,616.4 163.5,615.6 171.5,614.5 179.5,598.2 187.5,599.2 195.5,589.8 203.5,590.6 211.5,590.8 219.5,588.4 227.5,592.2 235.5,593.2 243.5,593.3 251.5,595.7 259.5,594.1 267.5,588.4 275.5,591.8 283.5,589.7 291.5,597.8 299.5,593.8 307.5,593.8 315.5,598.4 323.5,592.1 331.5,591.6 339.5,590.6 347.5,587.8 355.5,589.4 363.5,592.3 371.5,594.6 379.5,591.7 387.5,585.9 395.5,588.4 403.5,587.7 411.5,587.3 419.5,593.0 427.5,588.1 435.5,583.5 443.5,582.4 451.5,582.2 459.5,582.6 467.5,582.4 475.5,580.3 483.5,576.4 491.5,578.9 499.5,578.4 507.5,590.6 515.5,596.9 523.5,590.8 531.5,589.1 539.5,590.1 547.5,593.8 555.5,589.5 563.5,584.1 571.5,581.6 579.5,586.2 587.5,587.7 595.5,584.2 603.5,581.4 611.5,585.5 619.5,583.1 627.5,588.6 635.5,596.3 643.5,593.3 651.5,592.1 659.5,589.7 667.5,598.5 675.5,597.9 683.5,600.9 691.5,599.0 699.5,594.9 707.5,593.1 715.5,599.2 723.5,599.7 731.5,601.2 739.5,596.4 747.5,604.4 755.5,606.1 763.5,605.3 771.5,609.6 779.5,611.8 787.5,615.7 795.5,610.5 803.5,612.1 811.5,604.4 819.5,603.3 827.5,598.7 835.5,596.9 843.5,596.3 851.5,593.4 859.5,594.9 867.5,594.3 875.5,591.2 883.5,593.3 891.5,599.9 899.5,598.9 907.5,586.7 915.5,586.6 923.5,583.9 931.5,583.5 939.5,582.7 947.5,579.9 955.5,607.1 963.5,610.0 971.5,603.3 979.5,600.8 987.5,602.4 995.5,602.0 1003.5,613.1 1011.5,610.7 1019.5,612.2 1027.5,609.2 1035.5,607.9 1043.5,602.7 1051.5,604.5 1059.5,603.5 1067.5,606.5 1075.5,604.5 1083.5,608.4 1091.5,599.9 1099.5,604.6 1107.5,604.3 1115.5,604.3 1123.5,610.2 1131.5,615.2 1139.5,618.8 1147.5,612.2 1155.5,612.8 1163.5,610.3 1171.5,613.3 1179.5,612.6 1187.5,613.6 1195.5,611.9 1203.5,613.5 1211.5,605.9 1219.5,605.7 1227.5,609.5 1235.5,607.9 1243.5,607.1" fill="none" stroke="#1e90ff" stroke-width="1"/>
</g>
<text x="7" y="568" font-size="9.6" fill="#000" stroke="#000" stroke-width="0.1" textLength="67.5" lengthAdjust="spacingAndGlyphs" >RSI(14) 46.7483</text>
<text x="1583" y="566" font-size="9.6" fill="#000" stroke="#000" stroke-width="0.1" >100</text>
<text x="1583" y="588.5" font-size="9.6" fill="#000" stroke="#000" stroke-width="0.1" >70</text>
<text x="1583" y="625.5" font-size="9.6" fill="#000" stroke="#000" stroke-width="0.1" >30</text>
<text x="1583" y="648" font-size="9.6" fill="#000" stroke="#000" stroke-width="0.1" >0</text>
<defs><clipPath id="cd"><rect x="3" y="654" width="1576" height="95"/></clipPath></defs>
<g clip-path="url(#cd)" shape-rendering="crispEdges">
<rect x="3" y="717" width="1" height="14" fill="#c0c0c0" />
<rect x="11" y="717" width="1" height="8" fill="#c0c0c0" />
<rect x="19" y="717" width="1" height="4" fill="#c0c0c0" />
<rect x="27" y="717" width="1" height="2" fill="#c0c0c0" />
<rect x="35" y="717" width="1" height="3" fill="#c0c0c0" />
<rect x="43" y="717" width="1" height="3" fill="#c0c0c0" />
<rect x="51" y="717" width="1" height="8" fill="#c0c0c0" />
<rect x="59" y="717" width="1" height="12" fill="#c0c0c0" />
<rect x="67" y="717" width="1" height="15" fill="#c0c0c0" />
<rect x="75" y="717" width="1" height="16" fill="#c0c0c0" />
<rect x="83" y="717" width="1" height="19" fill="#c0c0c0" />
<rect x="91" y="717" width="1" height="18" fill="#c0c0c0" />
<rect x="99" y="717" width="1" height="17" fill="#c0c0c0" />
<rect x="107" y="717" width="1" height="16" fill="#c0c0c0" />
<rect x="115" y="717" width="1" height="14" fill="#c0c0c0" />
<rect x="123" y="717" width="1" height="13" fill="#c0c0c0" />
<rect x="131" y="717" width="1" height="11" fill="#c0c0c0" />
<rect x="139" y="717" width="1" height="13" fill="#c0c0c0" />
<rect x="147" y="717" width="1" height="18" fill="#c0c0c0" />
<rect x="155" y="717" width="1" height="21" fill="#c0c0c0" />
<rect x="163" y="717" width="1" height="23" fill="#c0c0c0" />
<rect x="171" y="717" width="1" height="24" fill="#c0c0c0" />
<rect x="179" y="717" width="1" height="17" fill="#c0c0c0" />
<rect x="187" y="717" width="1" height="11" fill="#c0c0c0" />
<rect x="203" y="710" width="1" height="7" fill="#c0c0c0" />
<rect x="211" y="704" width="1" height="13" fill="#c0c0c0" />
<rect x="219" y="697" width="1" height="20" fill="#c0c0c0" />
<rect x="227" y="694" width="1" height="23" fill="#c0c0c0" />
<rect x="235" y="692" width="1" height="25" fill="#c0c0c0" />
<rect x="243" y="691" width="1" height="26" fill="#c0c0c0" />
<rect x="251" y="691" width="1" height="26" fill="#c0c0c0" />
<rect x="259" y="691" width="1" height="26" fill="#c0c0c0" />
<rect x="267" y="687" width="1" height="30" fill="#c0c0c0" />
<rect x="275" y="686" width="1" height="31" fill="#c0c0c0" />
<rect x="283" y="684" width="1" height="33" fill="#c0c0c0" />
<rect x="291" y="686" width="1" height="31" fill="#c0c0c0" />
<rect x="299" y="686" width="1" height="31" fill="#c0c0c0" />
<rect x="307" y="686" width="1" height="31" fill="#c0c0c0" />
<rect x="315" y="688" width="1" height="29" fill="#c0c0c0" />
<rect x="323" y="687" width="1" height="30" fill="#c0c0c0" />
<rect x="331" y="685" width="1" height="32" fill="#c0c0c0" />
<rect x="339" y="684" width="1" height="33" fill="#c0c0c0" />
<rect x="347" y="682" width="1" height="35" fill="#c0c0c0" />
<rect x="355" y="681" width="1" height="36" fill="#c0c0c0" />
<rect x="363" y="681" width="1" height="36" fill="#c0c0c0" />
<rect x="371" y="683" width="1" height="34" fill="#c0c0c0" />
<rect x="379" y="683" width="1" height="34" fill="#c0c0c0" />
<rect x="387" y="680" width="1" height="37" fill="#c0c0c0" />
<rect x="395" y="679" width="1" height="38" fill="#c0c0c0" />
<rect x="403" y="678" width="1" height="39" fill="#c0c0c0" />
<rect x="411" y="678" width="1" height="39" fill="#c0c0c0" />
<rect x="419" y="679" width="1" height="38" fill="#c0c0c0" />
<rect x="427" y="678" width="1" height="39" fill="#c0c0c0" />
<rect x="435" y="675" width="1" height="42" fill="#c0c0c0" />
<rect x="443" y="672" width="1" height="45" fill="#c0c0c0" />
<rect x="451" y="670" width="1" height="47" fill="#c0c0c0" />
<rect x="459" y="669" width="1" height="48" fill="#c0c0c0" />
<rect x="467" y="668" width="1" height="49" fill="#c0c0c0" />
<rect x="475" y="667" width="1" height="50" fill="#c0c0c0" />
<rect x="483" y="664" width="1" height="53" fill="#c0c0c0" />
<rect x="491" y="662" width="1" height="55" fill="#c0c0c0" />
<rect x="499" y="661" width="1" height="56" fill="#c0c0c0" />
<rect x="507" y="665" width="1" height="52" fill="#c0c0c0" />
<rect x="515" y="670" width="1" height="47" fill="#c0c0c0" />
<rect x="523" y="671" width="1" height="46" fill="#c0c0c0" />
<rect x="531" y="672" width="1" height="45" fill="#c0c0c0" />
<rect x="539" y="673" width="1" height="44" fill="#c0c0c0" />
<rect x="547" y="676" width="1" height="41" fill="#c0c0c0" />
<rect x="555" y="676" width="1" height="41" fill="#c0c0c0" />
<rect x="563" y="672" width="1" height="45" fill="#c0c0c0" />
<rect x="571" y="668" width="1" height="49" fill="#c0c0c0" />
<rect x="579" y="667" width="1" height="50" fill="#c0c0c0" />
<rect x="587" y="667" width="1" height="50" fill="#c0c0c0" />
<rect x="595" y="666" width="1" height="51" fill="#c0c0c0" />
<rect x="603" y="662" width="1" height="55" fill="#c0c0c0" />
<rect x="611" y="662" width="1" height="55" fill="#c0c0c0" />
<rect x="619" y="660" width="1" height="57" fill="#c0c0c0" />
<rect x="627" y="661" width="1" height="56" fill="#c0c0c0" />
<rect x="635" y="666" width="1" height="51" fill="#c0c0c0" />
<rect x="643" y="668" width="1" height="49" fill="#c0c0c0" />
<rect x="651" y="670" width="1" height="47" fill="#c0c0c0" />
<rect x="659" y="670" width="1" height="47" fill="#c0c0c0" />
<rect x="667" y="674" width="1" height="43" fill="#c0c0c0" />
<rect x="675" y="678" width="1" height="39" fill="#c0c0c0" />
<rect x="683" y="683" width="1" height="34" fill="#c0c0c0" />
<rect x="691" y="686" width="1" height="31" fill="#c0c0c0" />
<rect x="699" y="686" width="1" height="31" fill="#c0c0c0" />
<rect x="707" y="685" width="1" height="32" fill="#c0c0c0" />
<rect x="715" y="688" width="1" height="29" fill="#c0c0c0" />
<rect x="723" y="691" width="1" height="26" fill="#c0c0c0" />
<rect x="731" y="694" width="1" height="23" fill="#c0c0c0" />
<rect x="739" y="694" width="1" height="23" fill="#c0c0c0" />
<rect x="747" y="698" width="1" height="19" fill="#c0c0c0" />
<rect x="755" y="702" width="1" height="15" fill="#c0c0c0" />
<rect x="763" y="705" width="1" height="12" fill="#c0c0c0" />
<rect x="771" y="709" width="1" height="8" fill="#c0c0c0" />
<rect x="779" y="714" width="1" height="3" fill="#c0c0c0" />
<rect x="787" y="717" width="1" height="3" fill="#c0c0c0" />
<rect x="795" y="717" width="1" height="6" fill="#c0c0c0" />
<rect x="803" y="717" width="1" height="9" fill="#c0c0c0" />
<rect x="811" y="717" width="1" height="8" fill="#c0c0c0" />
<rect x="819" y="717" width="1" height="6" fill="#c0c0c0" />
<rect x="827" y="717" width="1" height="3" fill="#c0c0c0" />
<rect x="835" y="716" width="1" height="1" fill="#c0c0c0" />
<rect x="843" y="713" width="1" height="4" fill="#c0c0c0" />
<rect x="851" y="708" width="1" height="9" fill="#c0c0c0" />
<rect x="859" y="706" width="1" height="11" fill="#c0c0c0" />
<rect x="867" y="704" width="1" height="13" fill="#c0c0c0" />
<rect x="875" y="701" width="1" height="16" fill="#c0c0c0" />
<rect x="883" y="699" width="1" height="18" fill="#c0c0c0" />
<rect x="891" y="700" width="1" height="17" fill="#c0c0c0" />
<rect x="899" y="701" width="1" height="16" fill="#c0c0c0" />
<rect x="907" y="695" width="1" height="22" fill="#c0c0c0" />
<rect x="915" y="690" width="1" height="27" fill="#c0c0c0" />
<rect x="923" y="685" width="1" height="32" fill="#c0c0c0" />
<rect x="931" y="680" width="1" height="37" fill="#c0c0c0" />
<rect x="939" y="677" width="1" height="40" fill="#c0c0c0" />
<rect x="947" y="673" width="1" height="44" fill="#c0c0c0" />
<rect x="955" y="682" width="1" height="35" fill="#c0c0c0" />
<rect x="963" y="691" width="1" height="26" fill="#c0c0c0" />
<rect x="971" y="695" width="1" height="22" fill="#c0c0c0" />
<rect x="979" y="696" width="1" height="21" fill="#c0c0c0" />
<rect x="987" y="698" width="1" height="19" fill="#c0c0c0" />
<rect x="995" y="700" width="1" height="17" fill="#c0c0c0" />
<rect x="1003" y="709" width="1" height="8" fill="#c0c0c0" />
<rect x="1011" y="715" width="1" height="2" fill="#c0c0c0" />
<rect x="1019" y="717" width="1" height="4" fill="#c0c0c0" />
<rect x="1027" y="717" width="1" height="7" fill="#c0c0c0" />
<rect x="1035" y="717" width="1" height="8" fill="#c0c0c0" />
<rect x="1043" y="717" width="1" height="6" fill="#c0c0c0" />
<rect x="1051" y="717" width="1" height="5" fill="#c0c0c0" />
<rect x="1059" y="717" width="1" height="4" fill="#c0c0c0" />
<rect x="1067" y="717" width="1" height="5" fill="#c0c0c0" />
<rect x="1075" y="717" width="1" height="4" fill="#c0c0c0" />
<rect x="1083" y="717" width="1" height="6" fill="#c0c0c0" />
<rect x="1091" y="717" width="1" height="2" fill="#c0c0c0" />
<rect x="1099" y="717" width="1" height="2" fill="#c0c0c0" />
<rect x="1107" y="717" width="1" height="2" fill="#c0c0c0" />
<rect x="1115" y="717" width="1" height="2" fill="#c0c0c0" />
<rect x="1123" y="717" width="1" height="5" fill="#c0c0c0" />
<rect x="1131" y="717" width="1" height="11" fill="#c0c0c0" />
<rect x="1139" y="717" width="1" height="19" fill="#c0c0c0" />
<rect x="1147" y="717" width="1" height="21" fill="#c0c0c0" />
<rect x="1155" y="717" width="1" height="23" fill="#c0c0c0" />
<rect x="1163" y="717" width="1" height="24" fill="#c0c0c0" />
<rect x="1171" y="717" width="1" height="25" fill="#c0c0c0" />
<rect x="1179" y="717" width="1" height="26" fill="#c0c0c0" />
<rect x="1187" y="717" width="1" height="27" fill="#c0c0c0" />
<rect x="1195" y="717" width="1" height="27" fill="#c0c0c0" />
<rect x="1203" y="717" width="1" height="27" fill="#c0c0c0" />
<rect x="1211" y="717" width="1" height="24" fill="#c0c0c0" />
<rect x="1219" y="717" width="1" height="21" fill="#c0c0c0" />
<rect x="1227" y="717" width="1" height="20" fill="#c0c0c0" />
<rect x="1235" y="717" width="1" height="19" fill="#c0c0c0" />
<rect x="1243" y="717" width="1" height="17" fill="#c0c0c0" />
<polyline points="3.5,739.4 11.5,736.8 19.5,734.2 27.5,731.1 35.5,729.0 43.5,727.2 51.5,725.9 59.5,725.4 67.5,725.5 75.5,725.7 83.5,726.9 91.5,728.5 99.5,730.2 107.5,731.7 115.5,732.9 123.5,733.5 131.5,733.3 139.5,733.2 147.5,733.4 155.5,733.6 163.5,734.2 171.5,734.9 179.5,734.9 187.5,734.6 195.5,733.2 203.5,731.0 211.5,727.9 219.5,723.5 227.5,718.3 235.5,712.8 243.5,707.1 251.5,702.2 259.5,697.9 267.5,694.3 275.5,691.7 283.5,689.6 291.5,688.4 299.5,687.6 307.5,686.9 315.5,686.6 323.5,686.1 331.5,685.5 339.5,685.2 347.5,684.7 355.5,684.3 363.5,683.7 371.5,683.4 379.5,683.1 387.5,682.2 395.5,681.4 403.5,680.5 411.5,679.8 419.5,679.5 427.5,679.3 435.5,678.6 443.5,677.3 451.5,675.8 459.5,674.5 467.5,673.3 475.5,672.1 483.5,670.6 491.5,668.7 499.5,666.8 507.5,665.6 515.5,665.4 523.5,665.6 531.5,665.9 539.5,666.4 547.5,667.3 555.5,668.6 563.5,669.7 571.5,670.5 579.5,670.8 587.5,670.5 595.5,669.9 603.5,668.9 611.5,667.6 619.5,665.9 627.5,664.3 635.5,663.6 643.5,663.6 651.5,663.9 659.5,664.2 667.5,665.1 675.5,666.9 683.5,669.2 691.5,672.1 699.5,674.8 707.5,677.0 715.5,679.2 723.5,681.5 731.5,684.1 739.5,686.2 747.5,688.4 755.5,690.5 763.5,692.7 771.5,695.3 779.5,698.5 787.5,702.2 795.5,706.0 803.5,709.8 811.5,713.4 819.5,716.4 827.5,718.6 835.5,719.8 843.5,720.2 851.5,719.5 859.5,717.8 867.5,715.4 875.5,712.5 883.5,709.4 891.5,706.7 899.5,704.4 907.5,702.0 915.5,699.5 923.5,696.9 931.5,694.1 939.5,691.1 947.5,688.0 955.5,686.1 963.5,685.1 971.5,684.4 979.5,684.5 987.5,685.4 995.5,687.1 1003.5,690.3 1011.5,694.5 1019.5,700.0 1027.5,704.9 1035.5,708.8 1043.5,712.1 1051.5,715.2 1059.5,718.0 1067.5,720.6 1075.5,722.1 1083.5,723.2 1091.5,723.1 1099.5,722.6 1107.5,722.0 1115.5,721.5 1123.5,721.5 1131.5,722.3 1139.5,723.9 1147.5,725.8 1155.5,727.7 1163.5,730.1 1171.5,732.6 1179.5,735.3 1187.5,738.1 1195.5,740.5 1203.5,742.3 1211.5,742.9 1219.5,742.8 1227.5,742.5 1235.5,742.0 1243.5,741.1" fill="none" stroke="#ff0000" stroke-width="1" stroke-dasharray="3 3"/>
</g>
<text x="7" y="666" font-size="9.6" fill="#000" stroke="#000" stroke-width="0.1" textLength="154" lengthAdjust="spacingAndGlyphs" >MACD(12,26,9) -0.002442 -0.003287</text>
<text x="1583" y="664" font-size="9.6" fill="#000" stroke="#000" stroke-width="0.1" >0.008782</text>
<text x="1583" y="720.5" font-size="9.6" fill="#000" stroke="#000" stroke-width="0.1" >0.00</text>
<text x="1583" y="745.5" font-size="9.6" fill="#000" stroke="#000" stroke-width="0.1" >-0.004451</text>
<rect x="1580" y="717" width="2" height="1" fill="#000" />
<rect x="3" y="750" width="1" height="3" fill="#000" />
<text x="2" y="762" font-size="9.6" fill="#000" stroke="#000" stroke-width="0.1" textLength="45.6" lengthAdjust="spacingAndGlyphs" >8 Oct 2020</text>
<rect x="67" y="750" width="1" height="3" fill="#000" />
<text x="66" y="762" font-size="9.6" fill="#000" stroke="#000" stroke-width="0.1" textLength="50" lengthAdjust="spacingAndGlyphs" >17 Oct 2020</text>
<rect x="131" y="750" width="1" height="3" fill="#000" />
<text x="130" y="762" font-size="9.6" fill="#000" stroke="#000" stroke-width="0.1" textLength="50" lengthAdjust="spacingAndGlyphs" >27 Oct 2020</text>
<rect x="195" y="750" width="1" height="3" fill="#000" />
<text x="194" y="762" font-size="9.6" fill="#000" stroke="#000" stroke-width="0.1" textLength="47.7" lengthAdjust="spacingAndGlyphs" >5 Nov 2020</text>
<rect x="259" y="750" width="1" height="3" fill="#000" />
<text x="258" y="762" font-size="9.6" fill="#000" stroke="#000" stroke-width="0.1" textLength="52.7" lengthAdjust="spacingAndGlyphs" >14 Nov 2020</text>
<rect x="323" y="750" width="1" height="3" fill="#000" />
<text x="322" y="762" font-size="9.6" fill="#000" stroke="#000" stroke-width="0.1" textLength="52.7" lengthAdjust="spacingAndGlyphs" >24 Nov 2020</text>
<rect x="387" y="750" width="1" height="3" fill="#000" />
<text x="386" y="762" font-size="9.6" fill="#000" stroke="#000" stroke-width="0.1" textLength="46" lengthAdjust="spacingAndGlyphs" >3 Dec 2020</text>
<rect x="451" y="750" width="1" height="3" fill="#000" />
<text x="450" y="762" font-size="9.6" fill="#000" stroke="#000" stroke-width="0.1" textLength="50.7" lengthAdjust="spacingAndGlyphs" >12 Dec 2020</text>
<rect x="515" y="750" width="1" height="3" fill="#000" />
<text x="514" y="762" font-size="9.6" fill="#000" stroke="#000" stroke-width="0.1" textLength="51" lengthAdjust="spacingAndGlyphs" >22 Dec 2020</text>
<rect x="579" y="750" width="1" height="3" fill="#000" />
<text x="578" y="762" font-size="9.6" fill="#000" stroke="#000" stroke-width="0.1" textLength="44" lengthAdjust="spacingAndGlyphs" >1 Jan 2021</text>
<rect x="643" y="750" width="1" height="3" fill="#000" />
<text x="642" y="762" font-size="9.6" fill="#000" stroke="#000" stroke-width="0.1" textLength="49" lengthAdjust="spacingAndGlyphs" >12 Jan 2021</text>
<rect x="707" y="750" width="1" height="3" fill="#000" />
<text x="706" y="762" font-size="9.6" fill="#000" stroke="#000" stroke-width="0.1" textLength="49" lengthAdjust="spacingAndGlyphs" >21 Jan 2021</text>
<rect x="771" y="750" width="1" height="3" fill="#000" />
<text x="770" y="762" font-size="9.6" fill="#000" stroke="#000" stroke-width="0.1" textLength="48.8" lengthAdjust="spacingAndGlyphs" >30 Jan 2021</text>
<rect x="835" y="750" width="1" height="3" fill="#000" />
<text x="834" y="762" font-size="9.6" fill="#000" stroke="#000" stroke-width="0.1" textLength="45.7" lengthAdjust="spacingAndGlyphs" >9 Feb 2021</text>
<rect x="899" y="750" width="1" height="3" fill="#000" />
<text x="898" y="762" font-size="9.6" fill="#000" stroke="#000" stroke-width="0.1" textLength="50.3" lengthAdjust="spacingAndGlyphs" >18 Feb 2021</text>
<rect x="963" y="750" width="1" height="3" fill="#000" />
<text x="962" y="762" font-size="9.6" fill="#000" stroke="#000" stroke-width="0.1" textLength="50" lengthAdjust="spacingAndGlyphs" >27 Feb 2021</text>
<rect x="1027" y="750" width="1" height="3" fill="#000" />
<text x="1026" y="762" font-size="9.6" fill="#000" stroke="#000" stroke-width="0.1" textLength="45.6" lengthAdjust="spacingAndGlyphs" >9 Mar 2021</text>
<rect x="1091" y="750" width="1" height="3" fill="#000" />
<text x="1090" y="762" font-size="9.6" fill="#000" stroke="#000" stroke-width="0.1" textLength="51" lengthAdjust="spacingAndGlyphs" >18 Mar 2021</text>
<rect x="1155" y="750" width="1" height="3" fill="#000" />
<text x="1154" y="762" font-size="9.6" fill="#000" stroke="#000" stroke-width="0.1" textLength="51.8" lengthAdjust="spacingAndGlyphs" >27 Mar 2021</text>
<rect x="1219" y="750" width="1" height="3" fill="#000" />
<text x="1218" y="762" font-size="9.6" fill="#000" stroke="#000" stroke-width="0.1" textLength="45.8" lengthAdjust="spacingAndGlyphs" >6 Apr 2021</text>
<rect x="0" y="770" width="1621" height="1" fill="#e3e3e3" />
<rect x="0" y="771" width="1621" height="1" fill="#fff" />
<rect x="0" y="772" width="1621" height="1" fill="#000" />
<rect x="0" y="773" width="1621" height="22" fill="#f0f0f0" />
<rect x="0" y="792" width="1621" height="1" fill="#fcfcfc" />
<rect x="208" y="771" width="104" height="19" fill="#fff" />
<rect x="208" y="772" width="1" height="18" fill="#000" />
<rect x="311" y="772" width="1" height="18" fill="#000" />
<rect x="208" y="789.4" width="104" height="1.3" fill="#000" />
<rect x="209" y="790" width="104" height="1" fill="#9a9a9a" />
<rect x="312" y="774" width="1" height="16" fill="#9a9a9a" />
<text x="16.5" y="786.8" font-size="12" fill="#5a5a5a" textLength="80.0" lengthAdjust="spacingAndGlyphs" >EURUSD,Daily</text>
<text x="118.3" y="786.8" font-size="12" fill="#5a5a5a" textLength="79.0" lengthAdjust="spacingAndGlyphs" >USDCHF,Daily</text>
<text x="323.3" y="786.8" font-size="12" fill="#5a5a5a" textLength="81.0" lengthAdjust="spacingAndGlyphs" >USDCAD,Daily</text>
<text x="426.7" y="786.8" font-size="12" fill="#5a5a5a" textLength="82.6" lengthAdjust="spacingAndGlyphs" >USDCNH,Daily</text>
<text x="532" y="786.8" font-size="12" fill="#5a5a5a" textLength="80" lengthAdjust="spacingAndGlyphs" >EURUSD,Daily</text>
<text x="636" y="786.8" font-size="12" fill="#5a5a5a" textLength="80" lengthAdjust="spacingAndGlyphs" >GBPUSD,Daily</text>
<text x="739.3" y="786.8" font-size="12" fill="#5a5a5a" textLength="68.4" lengthAdjust="spacingAndGlyphs" >XAUUSD,H4</text>
<text x="832.7" y="786.8" font-size="12" fill="#5a5a5a" textLength="59.0" lengthAdjust="spacingAndGlyphs" >HK50,M15</text>
<text x="915.7" y="786.8" font-size="12" fill="#5a5a5a" textLength="56.0" lengthAdjust="spacingAndGlyphs" >UK100,H1</text>
<text x="995.7" y="786.8" font-size="12" fill="#5a5a5a" textLength="56.0" lengthAdjust="spacingAndGlyphs" >UK100,H1</text>
<text x="1075" y="786.8" font-size="12" fill="#5a5a5a" textLength="56.7" lengthAdjust="spacingAndGlyphs" >GER30,H1</text>
<text x="1154" y="786.8" font-size="12" fill="#5a5a5a" textLength="54.5" lengthAdjust="spacingAndGlyphs" >FRA40,H1</text>
<text x="1230" y="786.8" font-size="12" fill="#5a5a5a" textLength="50" lengthAdjust="spacingAndGlyphs" >USOil,H1</text>
<text x="1302" y="786.8" font-size="12" fill="#5a5a5a" textLength="62.4" lengthAdjust="spacingAndGlyphs" >USDJPY,H1</text>
<text x="1387" y="786.8" font-size="12" fill="#5a5a5a" textLength="73" lengthAdjust="spacingAndGlyphs" >DJ30,Weekly</text>
<text x="1482" y="786.8" font-size="12" fill="#5a5a5a" textLength="78.6" lengthAdjust="spacingAndGlyphs" >CHINA300,H1</text>
<text x="1581.7" y="786.8" font-size="12" fill="#5a5a5a" textLength="7.3" lengthAdjust="spacingAndGlyphs" >U</text>
<text x="219.4" y="786.8" font-size="12" fill="#000" stroke="#000" stroke-width="0.1" textLength="81.6" lengthAdjust="spacingAndGlyphs" >AUDUSD,Daily</text>
<rect x="108" y="776" width="1" height="13" fill="#808080" />
<rect x="417" y="776" width="1" height="13" fill="#808080" />
<rect x="521" y="776" width="1" height="13" fill="#808080" />
<rect x="624" y="776" width="1" height="13" fill="#808080" />
<rect x="728" y="776" width="1" height="13" fill="#808080" />
<rect x="821" y="776" width="1" height="13" fill="#808080" />
<rect x="904" y="776" width="1" height="13" fill="#808080" />
<rect x="984" y="776" width="1" height="13" fill="#808080" />
<rect x="1064" y="776" width="1" height="13" fill="#808080" />
<rect x="1144" y="776" width="1" height="13" fill="#808080" />
<rect x="1220" y="776" width="1" height="13" fill="#808080" />
<rect x="1292" y="776" width="1" height="13" fill="#808080" />
<rect x="1376" y="776" width="1" height="13" fill="#808080" />
<rect x="1472" y="776" width="1" height="13" fill="#808080" />
<rect x="1572" y="776" width="1" height="13" fill="#808080" />
<path d="M1599 779 V785 L1596 782 Z" fill="#a0a0a0"/>
<path d="M1614 779 V785 L1617 782 Z" fill="#000"/></svg>
</body></html>
